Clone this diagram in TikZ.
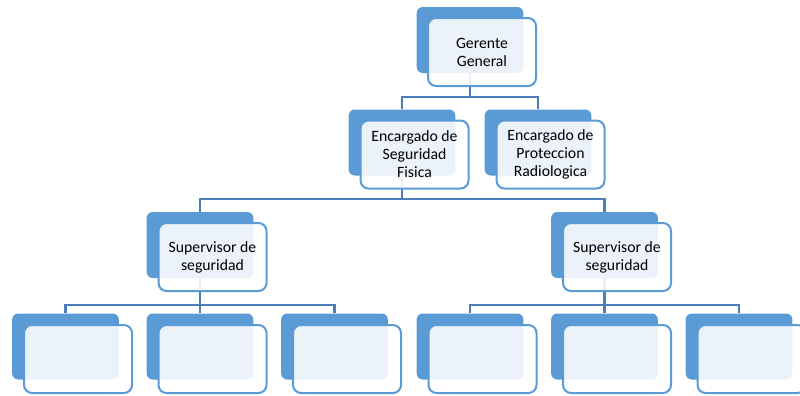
\documentclass[tikz,border=0pt]{standalone}
\usepackage{fontspec}
\setmainfont{Carlito}
\definecolor{boxblue}{HTML}{5B9BD5}
\definecolor{linkblue}{HTML}{4A7EBB}
\tikzset{
	backbox/.style={fill=boxblue, rounded corners=4.5pt, minimum width=80pt, minimum height=49.5pt, inner sep=0pt},
	frontbox/.style={draw=boxblue, line width=1.5pt, fill=white, fill opacity=0.88, text opacity=1, rounded corners=6pt, minimum width=81pt, minimum height=51pt, align=center, inner sep=1pt, font=\fontsize{11.8}{13.5}\selectfont},
	link/.style={draw=linkblue, line width=1.9pt}
}

\begin{document}
\begin{tikzpicture}[x=0.75pt, y=-0.75pt]
	\useasboundingbox (0,0) rectangle (800,396);
	% back boxes
	\node [backbox] (gg-b) at (470,40) {};
	\node [backbox] (es-b) at (402,142.5) {};
	\node [backbox] (pr-b) at (538,142.5) {};
	\node [backbox] (sa-b) at (200,245) {};
	\node [backbox] (sb-b) at (604.5,245) {};
	\node [backbox] (l1-b) at (65.5,346.5) {};
	\node [backbox] (l2-b) at (200,346.5) {};
	\node [backbox] (l3-b) at (334.5,346.5) {};
	\node [backbox] (l4-b) at (470,346.5) {};
	\node [backbox] (l5-b) at (604.5,346.5) {};
	\node [backbox] (l6-b) at (739,346.5) {};
	% connectors
	\coordinate (bar1) at (470,97);
	\coordinate (bar2) at (402,199);
	\coordinate (bar3) at (200,305);
	\coordinate (bar4) at (604.5,305);
	\draw [link] (gg-b.south) -- (bar1) -| (es-b.north);
	\draw [link] (bar1) -| (pr-b.north);
	\draw [link] (es-b.south) -- (bar2) -| (sa-b.north);
	\draw [link] (bar2) -| (sb-b.north);
	\draw [link] (sa-b.south) -- (bar3) -| (l1-b.north);
	\draw [link] (bar3) -- (l2-b.north);
	\draw [link] (bar3) -| (l3-b.north);
	\draw [link] (sb-b.south) -- (bar4) -| (l4-b.north);
	\draw [link] (bar4) -- (l5-b.north);
	\draw [link] (bar4) -| (l6-b.north);
	% front boxes
	\node [frontbox] (gg) at (482,52) {Gerente\\General};
	\node [frontbox] (es) at (414.5,154.5) {Encargado de\\Seguridad\\Fisica};
	\node [frontbox] (pr) at (550.5,154.5) {Encargado de\\Proteccion\\Radiologica};
	\node [frontbox] (sa) at (212.5,257) {Supervisor de\\seguridad};
	\node [frontbox] (sb) at (617,257) {Supervisor de\\seguridad};
	\node [frontbox] (l1) at (78,359) {};
	\node [frontbox] (l2) at (212.5,359) {};
	\node [frontbox] (l3) at (347,359) {};
	\node [frontbox] (l4) at (482.5,359) {};
	\node [frontbox] (l5) at (617,359) {};
	\node [frontbox] (l6) at (751.5,359) {};
\end{tikzpicture}
\end{document}
